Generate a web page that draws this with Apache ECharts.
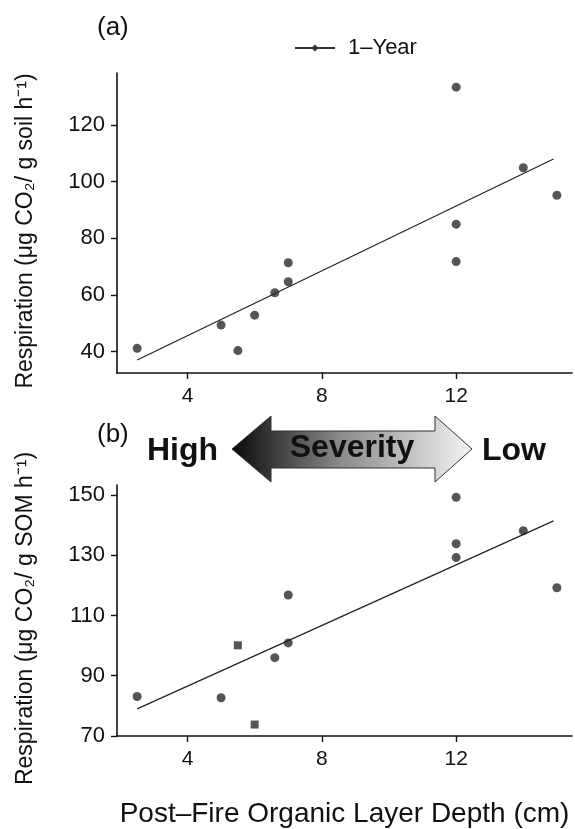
<!DOCTYPE html>
<html>
<head>
<meta charset="utf-8">
<script src="https://cdn.jsdelivr.net/npm/echarts@6/dist/echarts.min.js"></script>
<style>
html,body{margin:0;padding:0;background:#fff;}
#chart{width:575px;height:829px;}
</style>
</head>
<body>
<div id="chart"></div>
<script>
// Panel (a): respiration per g soil
const aX = [2.5, 5.0, 5.5, 6.0, 6.6, 7.0, 7.0, 12.0, 12.0, 12.0, 14.0, 15.0];
const aY = [41.2, 49.4, 40.4, 52.9, 60.8, 71.4, 64.7, 133.3, 85.0, 71.8, 104.9, 95.2];
const aFitX = [2.5, 14.9];
const aFitY = [37.1, 108.0];
// Panel (b): respiration per g SOM
const bX = [2.5, 5.0, 6.6, 7.0, 7.0, 12.0, 12.0, 12.0, 14.0, 15.0];
const bY = [83.1, 82.7, 96.0, 116.8, 100.9, 149.2, 133.8, 129.2, 138.1, 119.2];
const bSqX = [5.5, 6.0];
const bSqY = [100.1, 73.8];
const bFitX = [2.5, 14.9];
const bFitY = [79.0, 141.4];
// Ticks
const xTicks = [4, 8, 12];
const aYTicks = [40, 60, 80, 100, 120];
const bYTicks = [70, 90, 110, 130, 150];
const seriesName = '1–Year';

const FONT = 'Liberation Sans, Arial, Helvetica, sans-serif';
const INK = '#111';
const pts = (xs, ys) => xs.map((x, i) => [x, ys[i]]);

const chart = echarts.init(document.getElementById('chart'), null, {renderer: 'canvas'});

const axisCommon = {
  axisLine: {show: true, onZero: false, lineStyle: {color: INK, width: 1.6}},
  axisTick: {show: true, length: 6, lineStyle: {color: INK, width: 1.4}},
  splitLine: {show: false},
};

function xAxisCfg(gridIndex, extra) {
  return Object.assign({
    type: 'value', gridIndex, min: 1.9, max: 15.45,
    axisLabel: {customValues: xTicks, color: INK, fontSize: 21, fontFamily: FONT, margin: 13},
  }, axisCommon, {axisTick: Object.assign({}, axisCommon.axisTick, {customValues: xTicks})}, extra || {});
}
function yAxisCfg(gridIndex, min, max, ticks, name) {
  return Object.assign({
    type: 'value', gridIndex, min, max,
    name, nameLocation: 'middle', nameRotate: 90, nameGap: 80,
    nameTextStyle: {color: INK, fontSize: 23, fontFamily: FONT, padding: [0, 16, 0, 0]},
    axisLabel: {customValues: ticks, color: INK, fontSize: 22, fontFamily: FONT, margin: 12},
  }, axisCommon, {axisTick: Object.assign({}, axisCommon.axisTick, {customValues: ticks})});
}

// line with a diamond marker; a tiny dot at x=48 sets the gap before the label
const legendIcon = 'path://M0 3.9 H40 V6.1 H0 Z M20 1.5 L23.5 5 L20 8.5 L16.5 5 Z M48 5 L48.01 5 L48 5.01 Z';

const option = {
  backgroundColor: '#fff',
  animation: false,
  textStyle: {fontFamily: FONT},
  grid: [
    {left: 117, top: 73, width: 455, height: 300},
    {left: 117, top: 485, width: 455, height: 256}
  ],
  legend: {
    data: [{name: seriesName, icon: legendIcon}],
    left: 290, top: 32,
    itemWidth: 48, itemHeight: 7,
    textStyle: {color: INK, fontSize: 22, fontFamily: FONT},
    itemStyle: {color: '#000'}
  },
  xAxis: [
    xAxisCfg(0),
    xAxisCfg(1, {name: 'Post–Fire Organic Layer Depth (cm)', nameLocation: 'middle', nameGap: 64,
      nameTextStyle: {color: INK, fontSize: 28, fontFamily: FONT}})
  ],
  yAxis: [
    yAxisCfg(0, 32.5, 138.3, aYTicks, 'Respiration (μg CO₂/ g soil h⁻¹)'),
    yAxisCfg(1, 70, 153.3, bYTicks, 'Respiration (μg CO₂/ g SOM h⁻¹)')
  ],
  series: [
    {name: 'fitA', type: 'line', xAxisIndex: 0, yAxisIndex: 0, data: pts(aFitX, aFitY),
      showSymbol: false, lineStyle: {color: '#222', width: 1.2}, silent: true},
    {name: seriesName, type: 'scatter', xAxisIndex: 0, yAxisIndex: 0, data: pts(aX, aY),
      symbol: 'circle', symbolSize: 9, itemStyle: {color: '#2b2b2b'}},
    {name: 'fitB', type: 'line', xAxisIndex: 1, yAxisIndex: 1, data: pts(bFitX, bFitY),
      showSymbol: false, lineStyle: {color: '#222', width: 1.2}, silent: true},
    {name: seriesName, type: 'scatter', xAxisIndex: 1, yAxisIndex: 1, data: pts(bX, bY),
      symbol: 'circle', symbolSize: 9, itemStyle: {color: '#2b2b2b'}},
    {name: seriesName, type: 'scatter', xAxisIndex: 1, yAxisIndex: 1, data: pts(bSqX, bSqY),
      symbol: 'rect', symbolSize: 8, itemStyle: {color: '#2b2b2b'}}
  ],
  graphic: [
    {type: 'text', left: 97, top: 15, style: {text: '(a)', font: '26px ' + FONT, fill: INK}},
    {type: 'text', left: 97, top: 422, style: {text: '(b)', font: '26px ' + FONT, fill: INK}},
    {type: 'polygon', shape: {points: [
        [232, 449], [271, 416], [271, 431], [435, 431], [435, 416], [472, 449],
        [435, 482], [435, 468], [271, 468], [271, 482]
      ]},
      style: {
        fill: new echarts.graphic.LinearGradient(0, 0, 1, 0, [
          {offset: 0, color: '#080808'},
          {offset: 0.45, color: '#8a8a8a'},
          {offset: 1, color: '#f4f4f4'}
        ]),
        stroke: '#333', lineWidth: 1
      }
    },
    {type: 'text', x: 352, y: 448, style: {text: 'Severity', font: 'bold 32px ' + FONT, fill: '#111', align: 'center', verticalAlign: 'middle'}},
    {type: 'text', x: 147, y: 451, style: {text: 'High', font: 'bold 32px ' + FONT, fill: '#111', align: 'left', verticalAlign: 'middle'}},
    {type: 'text', x: 482, y: 451, style: {text: 'Low', font: 'bold 32px ' + FONT, fill: '#111', align: 'left', verticalAlign: 'middle'}}
  ]
};
chart.setOption(option);
</script>
</body>
</html>
